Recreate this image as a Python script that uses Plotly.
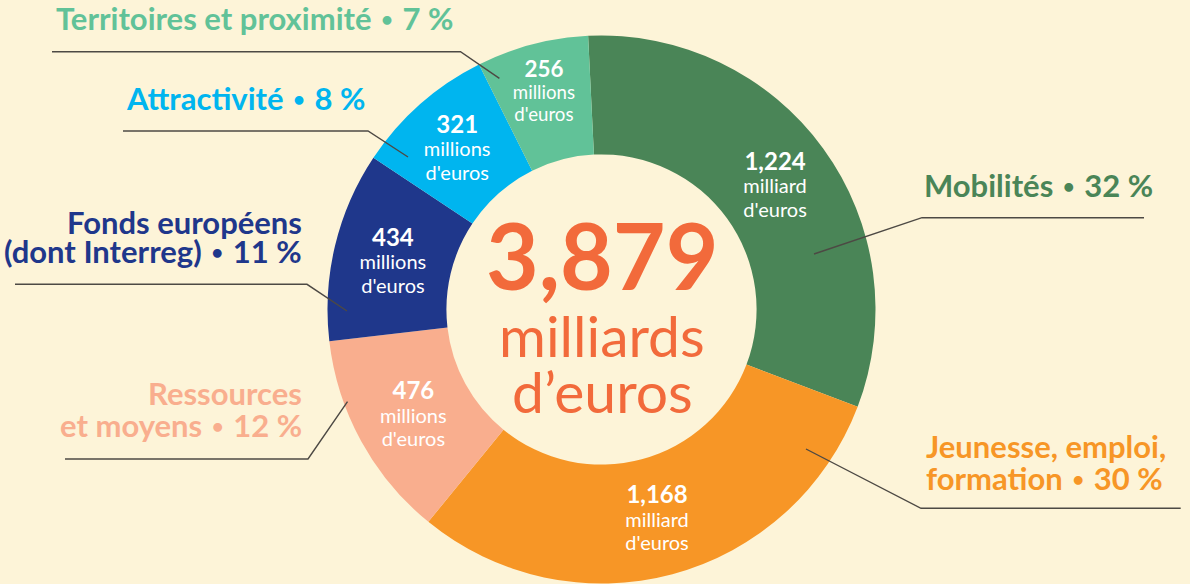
import plotly.graph_objects as go

W, H = 1190, 584

# ---- data ----
categories = ["Mobilités", "Jeunesse, emploi, formation", "Ressources et moyens",
              "Fonds européens (dont Interreg)", "Attractivité", "Territoires et proximité"]
values = [1224, 1168, 476, 434, 321, 256]          # millions d'euros
percents = [32, 30, 12, 11, 8, 7]
label_lines = [["Mobilités"], ["Jeunesse, emploi,", "formation"], ["Ressources", "et moyens"],
               ["Fonds européens", "(dont Interreg)"], ["Attractivité"], ["Territoires et proximité"]]
colors = ["#4A8557", "#F79626", "#F9AE8E", "#1F378B", "#00B5EF", "#61C298"]

BG = "#FDF4D8"
CENTER = "#F26A3B"
FONT = "Lato"


def amount_text(v):
    if v >= 1000:
        num, unit = f"{v / 1000:.3f}".replace(".", ","), "milliard"
    else:
        num, unit = str(v), "millions"
    return (f"<b><span style='font-size:24px'>{num}</span></b><br>"
            f"<span style='font-size:20px'>{unit}</span><br>"
            f"<span style='font-size:20px'>d'euros</span>")


texts = [amount_text(v) for v in values]
total = sum(values)
total_txt = f"{total / 1000:.3f}".replace(".", ",")

fig = go.Figure()
fig.add_trace(go.Pie(
    values=values, labels=categories, text=texts, texttemplate="%{text}",
    textposition="inside", insidetextorientation="horizontal",
    sort=False, direction="clockwise", rotation=-2.8, hole=0.566,
    marker=dict(colors=colors, line=dict(width=0)),
    textfont=dict(family=FONT, size=18, color="white"),
    domain=dict(x=[327.5 / W, 875.5 / W], y=[1 - 583.5 / H, 1 - 35.5 / H]),
    showlegend=False, hoverinfo="skip",
))


def ann(text, x_px, baseline_px, size, color, xanchor, bold=True):
    return dict(text=f"<b>{text}</b>" if bold else text,
                x=x_px / W, y=1 - (baseline_px - 0.387 * size) / H,
                xref="paper", yref="paper", xanchor=xanchor, yanchor="middle",
                showarrow=False, font=dict(family=FONT, size=size, color=color))


annotations = []
# center text
annotations.append(ann(total_txt, 602, 290, 91, CENTER, "center"))
annotations.append(ann("milliards", 602, 357, 57, CENTER, "center", bold=False))
annotations.append(ann("d’euros", 602, 413, 57, CENTER, "center", bold=False))

# outer labels: (anchor x, anchor, baselines)
LS = 31
label_pos = [
    (1038, "center", [196.7]),
    (924, "left", [457.7, 490]),
    (304, "right", [405, 437]),
    (304, "right", [234.3, 263.3]),
    (245.5, "center", [110]),
    (254.5, "center", [30]),
]
DOT = "<span style='font-family:DejaVu Sans;font-size:25px'>•</span>"
for i, (xp, xa, bls) in enumerate(label_pos):
    lines = list(label_lines[i])
    lines[-1] = f"{lines[-1]} {DOT} {percents[i]} %"
    for line, bl in zip(lines, bls):
        annotations.append(ann(line, xp, bl, LS, colors[i], xa))

# leader lines (pixel polylines)
leaders = [
    [(1144, 217.7), (922, 217.7), (814, 254)],
    [(1180.7, 508.3), (921, 508.3), (806, 449)],
    [(65, 459), (308, 459), (347.5, 401.7)],
    [(15, 284.3), (307, 284.3), (347, 311)],
    [(123, 131), (368, 131), (408, 157)],
    [(52, 51.7), (460.5, 51.7), (499.4, 78.3)],
]
shapes = []
for pts in leaders:
    path = "M " + " L ".join(f"{x / W:.5f},{1 - y / H:.5f}" for x, y in pts)
    shapes.append(dict(type="path", path=path, xref="paper", yref="paper",
                       line=dict(color="#4d4944", width=1.4)))

fig.update_layout(
    width=W, height=H, margin=dict(l=0, r=0, t=0, b=0),
    paper_bgcolor=BG, plot_bgcolor=BG,
    annotations=annotations, shapes=shapes,
    font=dict(family=FONT),
)

fig.write_html(
    "out.html",
    config={"displayModeBar": False},
    post_script=("document.body.style.margin='0';document.body.style.padding='0';"
                 f"document.body.style.background='{BG}';document.body.style.overflow='hidden';"),
)
